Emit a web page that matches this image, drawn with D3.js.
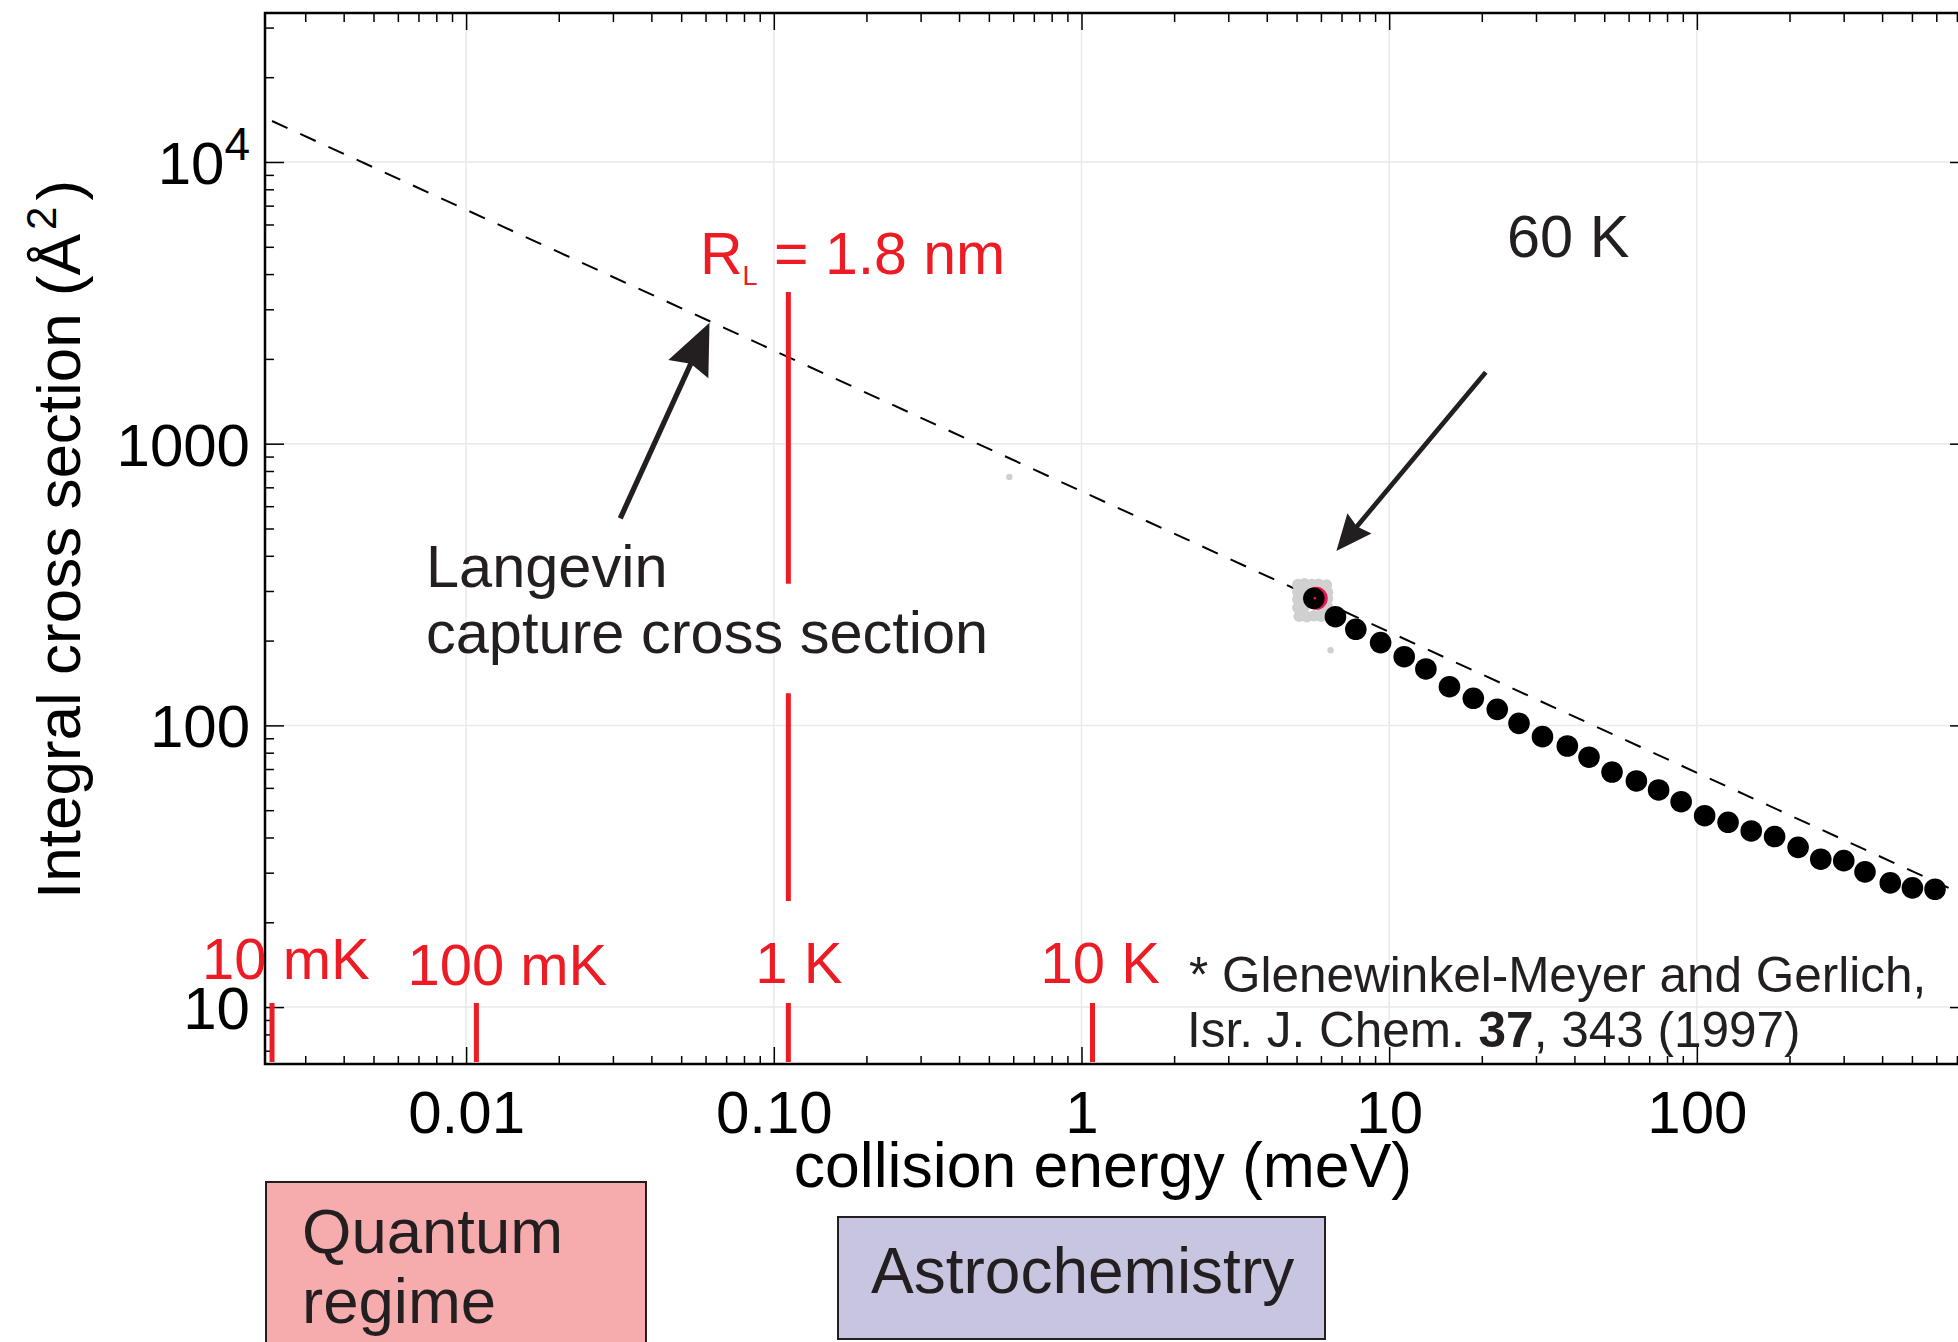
<!DOCTYPE html>
<html>
<head>
<meta charset="utf-8">
<script src="https://cdn.jsdelivr.net/npm/d3@7"></script>
<style>
  body { margin: 0; background: #fff; }
  svg { display: block; font-family: "Liberation Sans", Arial, Helvetica, sans-serif; }
</style>
</head>
<body>
<script>
// measured integral cross sections (black points), energy in meV, sigma in A^2
let energy = [5.69, 6.69, 7.79, 9.38, 11.19, 13.16, 15.70, 18.77, 22.45, 26.42, 31.49, 37.93, 44.61, 53.0,
              63.6, 75.1, 88.9, 106.0, 126.3, 150.2, 178.9, 213.3, 252.7, 300.2, 351.9, 425.2, 501.8, 594.3];
let sigma = [282.6, 243.1, 219.4, 196.7, 175.3, 158.6, 137.2, 124.8, 114.0, 101.7, 91.2, 84.5, 77.1, 68.3,
             63.5, 59.0, 53.6, 47.8, 45.3, 42.2, 40.3, 36.9, 33.5, 33.1, 30.2, 27.6, 26.5, 26.2];

// grey cloud of single scans around the first point
let greyEnergy = [5.05, 5.30, 5.60, 5.90, 6.25, 5.05, 5.35, 6.00, 6.30, 5.05, 6.30, 5.05, 5.30, 6.05, 6.30, 5.10, 5.40, 5.70, 6.00, 6.30];
let greySigma  = [316, 318, 316, 317, 315, 298, 300, 299, 297, 280, 282, 262, 264, 262, 263, 244, 243, 245, 244, 246];
// stray grey points
let strayEnergy = [6.45, 0.583];
let straySigma = [185, 762];

// Langevin capture cross section (dashed), end points
let langevinE = [0.00234, 658];
let langevinS = [13980, 26.5];

// temperature markers
let tempEnergy = [0.00234, 0.0108, 0.1115, 1.086];
let tempLabels = ["10 mK", "100 mK", "1 K", "10 K"];
let tempLabelDx = [-70, -69, -33, -52];
let tempLabelY = [979, 985, 983, 983];

// R_L = 1.8 nm line (broken around the text), sigma ranges
let rlEnergy = 0.1115;
let rlSegments = [[3455, 318], [130, 23.8]];

// axes
let xDomain = [0.00222, 755];
let yDomain = [6.28, 33800];
let xMajor = [0.01, 0.1, 1, 10, 100];
let xTickLabels = ["0.01", "0.10", "1", "10", "100"];
let yMajor = [10, 100, 1000, 10000];
let yTickLabels = ["10", "100", "1000", "10"];

// arrows [fromE, fromS, toE, toS]
let langevinArrow = [0.0317, 543.5, 0.0618, 2688];
let tempArrow = [20.6, 1792, 6.735, 416];

const W = 1958, H = 1342;
const ink = "#231f20", red = "#ed1c24";
const plot = { left: 265, right: 1967, top: 13, bottom: 1064 };

const svg = d3.select("body").append("svg").attr("width", W).attr("height", H);

const x = d3.scaleLog().domain(xDomain).range([plot.left, plot.right]);
const y = d3.scaleLog().domain(yDomain).range([plot.bottom, plot.top]);

const xMinor = x.ticks().filter(d => !xMajor.some(m => Math.abs(m - d) / m < 1e-6));
const yMinor = y.ticks().filter(d => !yMajor.some(m => Math.abs(m - d) / m < 1e-6));

// grid
svg.append("g").selectAll("line").data(xMajor).join("line")
    .attr("x1", d => x(d)).attr("x2", d => x(d))
    .attr("y1", plot.top).attr("y2", plot.bottom)
    .attr("stroke", "#e9e9e9").attr("stroke-width", 1.5);
svg.append("g").selectAll("line").data(yMajor).join("line")
    .attr("y1", d => y(d)).attr("y2", d => y(d))
    .attr("x1", plot.left).attr("x2", plot.right)
    .attr("stroke", "#e9e9e9").attr("stroke-width", 1.5);

function styleAxis(g) {
    g.select(".domain").remove();
    g.selectAll(".tick line").attr("stroke", "#000").attr("stroke-width", 1.5);
    g.attr("font-family", null).attr("font-size", 60);
    g.selectAll("text").attr("fill", "#000");
}

// bottom
svg.append("g").attr("transform", `translate(0,${plot.bottom})`)
    .call(d3.axisBottom(x).tickValues(xMajor).tickFormat((d, i) => xTickLabels[i])
        .tickSizeInner(-17).tickSizeOuter(0).tickPadding(26))
    .call(styleAxis);
svg.append("g").attr("transform", `translate(0,${plot.bottom})`)
    .call(d3.axisBottom(x).tickValues(xMinor).tickFormat("").tickSizeInner(-8).tickSizeOuter(0))
    .call(styleAxis);
// top
svg.append("g").attr("transform", `translate(0,${plot.top})`)
    .call(d3.axisTop(x).tickValues(xMajor).tickFormat("").tickSizeInner(-17).tickSizeOuter(0))
    .call(styleAxis);
svg.append("g").attr("transform", `translate(0,${plot.top})`)
    .call(d3.axisTop(x).tickValues(xMinor).tickFormat("").tickSizeInner(-9).tickSizeOuter(0))
    .call(styleAxis);
// left
const yAxisG = svg.append("g").attr("transform", `translate(${plot.left},0)`)
    .call(d3.axisLeft(y).tickValues(yMajor).tickFormat((d, i) => yTickLabels[i])
        .tickSizeInner(-19).tickSizeOuter(0).tickPadding(15))
    .call(styleAxis);
yAxisG.selectAll("text").attr("dy", "0.36em").each(function (d) {
    if (d === 10000) {
        d3.select(this).append("tspan").attr("font-size", 46).attr("dy", -24).text("4");
    }
});
svg.append("g").attr("transform", `translate(${plot.left},0)`)
    .call(d3.axisLeft(y).tickValues(yMinor).tickFormat("").tickSizeInner(-9).tickSizeOuter(0))
    .call(styleAxis);
// right
svg.append("g").attr("transform", `translate(${plot.right},0)`)
    .call(d3.axisRight(y).tickValues(yMajor).tickFormat("").tickSizeInner(-17).tickSizeOuter(0))
    .call(styleAxis);
svg.append("g").attr("transform", `translate(${plot.right},0)`)
    .call(d3.axisRight(y).tickValues(yMinor).tickFormat("").tickSizeInner(-8).tickSizeOuter(0))
    .call(styleAxis);

// frame
svg.append("rect")
    .attr("x", plot.left).attr("y", plot.top)
    .attr("width", plot.right - plot.left).attr("height", plot.bottom - plot.top)
    .attr("fill", "none").attr("stroke", "#000").attr("stroke-width", 2.5);

// Langevin dashed line
svg.append("path")
    .datum(langevinE.map((e, i) => [e, langevinS[i]]))
    .attr("d", d3.line().x(d => x(d[0])).y(d => y(d[1])))
    .attr("fill", "none").attr("stroke", "#000").attr("stroke-width", 2)
    .attr("stroke-dasharray", "17,14");

// temperature markers
svg.append("g").selectAll("line").data(tempEnergy).join("line")
    .attr("x1", d => x(d)).attr("x2", d => x(d))
    .attr("y1", 1003).attr("y2", 1062)
    .attr("stroke", red).attr("stroke-width", 5);
svg.append("g").selectAll("text").data(tempEnergy).join("text")
    .attr("x", (d, i) => x(d) + tempLabelDx[i])
    .attr("y", (d, i) => tempLabelY[i])
    .attr("font-size", 58).attr("fill", red)
    .text((d, i) => tempLabels[i]);

// R_L line
svg.append("g").selectAll("line").data(rlSegments).join("line")
    .attr("x1", x(rlEnergy)).attr("x2", x(rlEnergy))
    .attr("y1", d => y(d[0])).attr("y2", d => y(d[1]))
    .attr("stroke", red).attr("stroke-width", 5);
const rl = svg.append("text").attr("x", 700).attr("y", 274).attr("font-size", 59).attr("fill", red);
rl.append("tspan").text("R");
rl.append("tspan").attr("font-size", 27).attr("dy", 11).text("L");
rl.append("tspan").attr("dy", -11).text(" = 1.8 nm");

// grey scans
svg.append("g").selectAll("circle").data(greyEnergy).join("circle")
    .attr("cx", d => x(d)).attr("cy", (d, i) => y(greySigma[i]))
    .attr("r", 5.8).attr("fill", "#d0d0d0");
svg.append("g").selectAll("circle").data(strayEnergy).join("circle")
    .attr("cx", d => x(d)).attr("cy", (d, i) => y(straySigma[i]))
    .attr("r", 3.2).attr("fill", "#cfcfcf");

// red highlight behind the first point
svg.append("circle").attr("cx", x(energy[0] * 1.018)).attr("cy", y(sigma[0]))
    .attr("r", 11.5).attr("fill", "#e8174f");

// measured points
svg.append("g").selectAll("circle").data(energy).join("circle")
    .attr("cx", d => x(d)).attr("cy", (d, i) => y(sigma[i]))
    .attr("r", 10.8).attr("fill", "#000");
svg.append("circle").attr("cx", x(energy[0] * 1.007)).attr("cy", y(sigma[0]))
    .attr("r", 1.3).attr("fill", "#e8174f");

// arrows
function arrow(a, shaftW, headLen, headHalf, notch) {
    const x0 = x(a[0]), y0 = y(a[1]), x1 = x(a[2]), y1 = y(a[3]);
    const ang = Math.atan2(y1 - y0, x1 - x0) * 180 / Math.PI;
    const len = Math.hypot(x1 - x0, y1 - y0);
    const g = svg.append("g").attr("transform", `translate(${x0},${y0}) rotate(${ang})`);
    g.append("line").attr("x1", 0).attr("y1", 0).attr("x2", len - headLen + notch + 1).attr("y2", 0)
        .attr("stroke", ink).attr("stroke-width", shaftW);
    g.append("path")
        .attr("d", `M${len},0L${len - headLen},${-headHalf}L${len - headLen + notch},0L${len - headLen},${headHalf}Z`)
        .attr("fill", ink);
}
arrow(langevinArrow, 5.3, 51, 22, 6);
arrow(tempArrow, 4.7, 36, 15.7, 4);

// annotations
svg.append("text").attr("x", 426).attr("y", 587).attr("font-size", 59.5).attr("fill", ink).text("Langevin");
svg.append("text").attr("x", 426).attr("y", 653).attr("font-size", 59.5).attr("fill", ink).text("capture cross section");
svg.append("text").attr("x", 1507).attr("y", 257).attr("font-size", 59.5).attr("fill", ink).text("60 K");

svg.append("text").attr("x", 1189).attr("y", 992).attr("font-size", 49.5).attr("fill", ink)
    .text("* Glenewinkel-Meyer and Gerlich,");
const ref2 = svg.append("text").attr("x", 1187).attr("y", 1047).attr("font-size", 49.5).attr("fill", ink);
ref2.append("tspan").text("Isr. J. Chem. ");
ref2.append("tspan").attr("font-weight", "bold").text("37");
ref2.append("tspan").text(", 343 (1997)");

// axis titles
svg.append("text").attr("x", 1103).attr("y", 1187).attr("text-anchor", "middle")
    .attr("font-size", 62.5).attr("fill", "#000").text("collision energy (meV)");
const yt = svg.append("text").attr("transform", "translate(80,899) rotate(-90)")
    .attr("font-size", 62).attr("fill", "#000");
yt.append("tspan").text("Integral cross section (Å");
yt.append("tspan").attr("font-size", 42).attr("dx", 4).attr("dy", -24).text("2");
yt.append("tspan").attr("dx", 6).attr("dy", 24).text(")");

// regime boxes
svg.append("rect").attr("x", 266).attr("y", 1182).attr("width", 380).attr("height", 220)
    .attr("fill", "#f6abad").attr("stroke", ink).attr("stroke-width", 2);
svg.append("text").attr("x", 302).attr("y", 1253).attr("font-size", 63.5).attr("fill", ink).text("Quantum");
svg.append("text").attr("x", 302).attr("y", 1323).attr("font-size", 63.5).attr("fill", ink).text("regime");

svg.append("rect").attr("x", 838).attr("y", 1217).attr("width", 487).attr("height", 122)
    .attr("fill", "#c8c5e1").attr("stroke", ink).attr("stroke-width", 2);
svg.append("text").attr("x", 871).attr("y", 1293).attr("font-size", 64).attr("fill", ink).text("Astrochemistry");
</script>
</body>
</html>
